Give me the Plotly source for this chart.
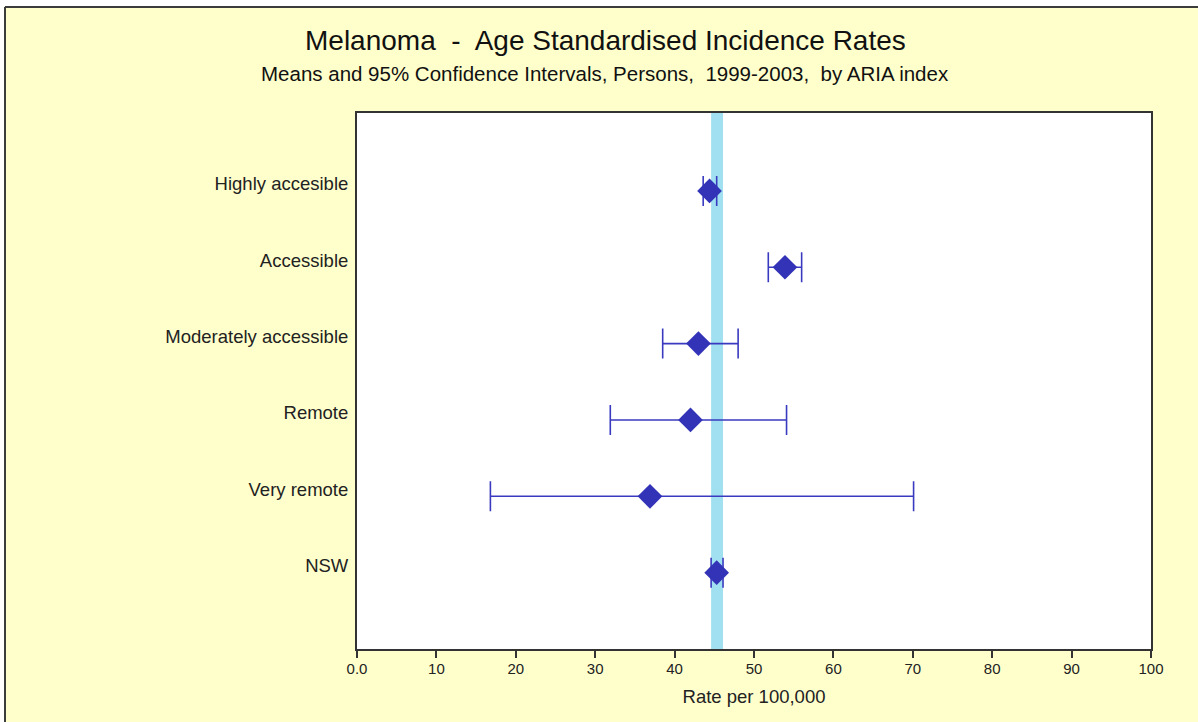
import plotly.graph_objects as go

# ARIA index categories, top to bottom
categories = ["Highly accesible", "Accessible", "Moderately accessible",
              "Remote", "Very remote", "NSW"]
rate = [44.4, 53.9, 43.0, 42.0, 36.9, 45.3]
ci_lower = [43.6, 51.8, 38.5, 31.9, 16.8, 44.6]
ci_upper = [45.3, 56.0, 48.0, 54.1, 70.1, 46.1]

x_ticks = [0, 10, 20, 30, 40, 50, 60, 70, 80, 90, 100]
x_tick_labels = ["0.0", "10", "20", "30", "40", "50", "60", "70", "80", "90", "100"]

W, H = 1198, 722
L, R, T, B = 357, 47, 113, 73
plot_w = W - L - R
plot_h = H - T - B

def px_to_paper_x(px):
    return (px - L) / plot_w

def px_to_paper_y(py):
    return (H - B - py) / plot_h

font_family = "Arial, Liberation Sans, sans-serif"
marker_color = "#3333B8"

rows = list(range(len(categories)))

fig = go.Figure()
fig.add_trace(go.Scatter(
    x=rate,
    y=rows,
    mode="markers",
    marker=dict(symbol="diamond", size=19, color=marker_color,
                line=dict(width=0)),
    error_x=dict(
        type="data",
        symmetric=False,
        array=[u - m for u, m in zip(ci_upper, rate)],
        arrayminus=[m - l for m, l in zip(rate, ci_lower)],
        color="#3A3AC0",
        thickness=1.6,
        width=15,
    ),
    hoverinfo="x+y",
    showlegend=False,
))

nsw = categories.index("NSW")
shapes = [
    # NSW confidence band
    dict(type="rect", xref="x", yref="paper",
         x0=ci_lower[nsw], x1=ci_upper[nsw], y0=0, y1=1,
         fillcolor="#A0E0F0", line=dict(width=0), layer="below"),
    # white margin outside the chart frame
    dict(type="rect", xref="paper", yref="paper",
         x0=px_to_paper_x(-5), x1=px_to_paper_x(W + 5),
         y0=px_to_paper_y(6), y1=px_to_paper_y(-5),
         fillcolor="white", line=dict(width=0), layer="above"),
    dict(type="rect", xref="paper", yref="paper",
         x0=px_to_paper_x(-5), x1=px_to_paper_x(4),
         y0=px_to_paper_y(H + 5), y1=px_to_paper_y(-5),
         fillcolor="white", line=dict(width=0), layer="above"),
    # chart frame edges
    dict(type="line", xref="paper", yref="paper",
         x0=px_to_paper_x(5), x1=px_to_paper_x(W + 5),
         y0=px_to_paper_y(7), y1=px_to_paper_y(7),
         line=dict(color="#3C3C3C", width=2), layer="above"),
    dict(type="line", xref="paper", yref="paper",
         x0=px_to_paper_x(5), x1=px_to_paper_x(5),
         y0=px_to_paper_y(7), y1=px_to_paper_y(H + 5),
         line=dict(color="#3C3C3C", width=2), layer="above"),
]

annotations = [
    dict(text="Melanoma  -  Age Standardised Incidence Rates",
         xref="paper", yref="paper",
         x=px_to_paper_x(605), y=px_to_paper_y(40),
         xanchor="center", yanchor="middle", showarrow=False,
         font=dict(family=font_family, size=28, color="#111111")),
    dict(text="Means and 95% Confidence Intervals, Persons,  1999-2003,  by ARIA index",
         xref="paper", yref="paper",
         x=px_to_paper_x(605), y=px_to_paper_y(73),
         xanchor="center", yanchor="middle", showarrow=False,
         font=dict(family=font_family, size=20.5, color="#111111")),
]

fig.update_layout(
    width=W, height=H,
    margin=dict(l=L, r=R, t=T, b=B, pad=0),
    paper_bgcolor="#FFFFCC",
    plot_bgcolor="white",
    font=dict(family=font_family, color="#222222"),
    shapes=shapes,
    annotations=annotations,
    xaxis=dict(
        range=[0, 100],
        tickvals=x_ticks,
        ticktext=x_tick_labels,
        ticks="outside", ticklen=7, tickwidth=1.5, tickcolor="#333333",
        ticklabelstandoff=-2,
        showgrid=False, zeroline=False,
        showline=True, linecolor="#333333", linewidth=2, mirror=True,
        tickfont=dict(size=15, color="#222222"),
        title=dict(text="Rate per 100,000", standoff=14,
                   font=dict(size=18.5, color="#222222")),
        fixedrange=True,
    ),
    yaxis=dict(
        range=[6.0, -1.02],
        tickvals=rows,
        ticktext=categories,
        ticks="", ticklabelstandoff=3, ticklabelshift=7,
        showgrid=False, zeroline=False,
        showline=True, linecolor="#333333", linewidth=2, mirror=True,
        tickfont=dict(size=18.5, color="#222222"),
        fixedrange=True,
    ),
)

fig.write_html("out.html")
